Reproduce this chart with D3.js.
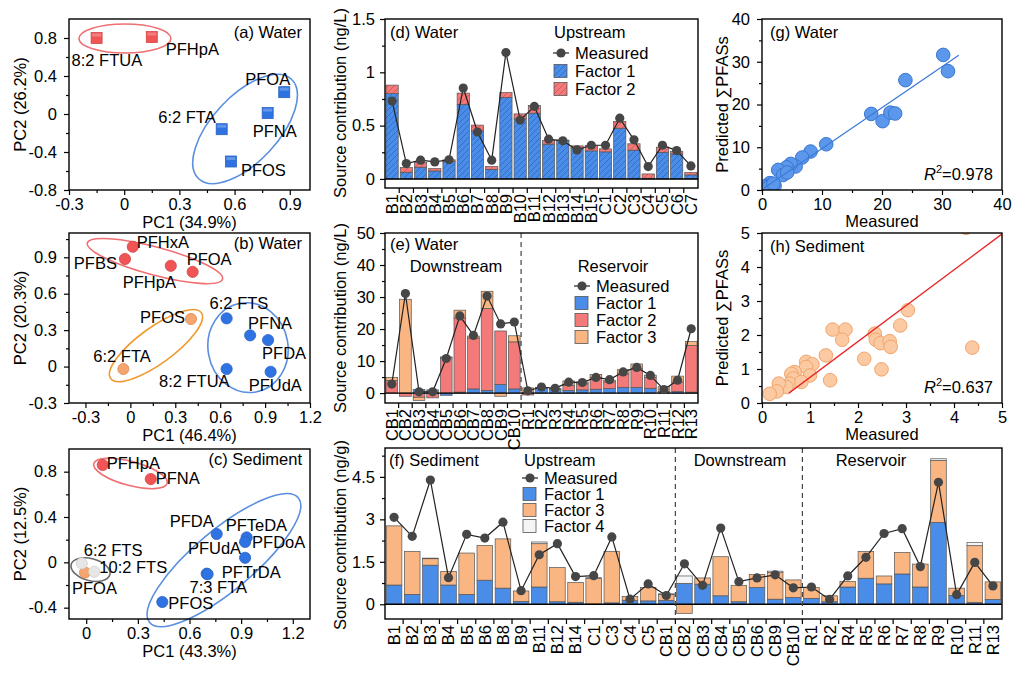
<!DOCTYPE html>
<html><head><meta charset="utf-8">
<script src="https://cdn.jsdelivr.net/npm/d3@7"></script>
<style>
body{margin:0;background:#fff}
svg{display:block}
text{font-family:Arial,"Liberation Sans",sans-serif;fill:#000}
</style>
</head><body>
<svg id="c" width="1024" height="674"></svg>
<script>
// ---------------- DATA ----------------
// (a) PCA water, upstream
const aNames = ["8:2 FTUA","PFHpA","PFOA","PFNA","6:2 FTA","PFOS"];
const aPC1 = [-0.15,0.15,0.87,0.78,0.53,0.58];
const aPC2 = [0.80,0.81,0.23,0.01,-0.16,-0.50];
const aGroup = ["r","r","b","b","b","b"];
// (b) PCA water
const bNames = ["PFHxA","PFBS","PFHpA","PFOA","PFOS","6:2 FTA","6:2 FTS","PFNA","PFDA","8:2 FTUA","PFUdA"];
const bPC1 = [0.016,-0.036,0.27,0.416,0.405,-0.047,0.643,0.80,0.92,0.643,0.937];
const bPC2 = [0.987,0.886,0.83,0.78,0.392,-0.02,0.397,0.257,0.218,-0.02,-0.043];
const bGroup = ["r","r","r","r","o","o","b","b","b","b","b"];
// (c) PCA sediment
const cNames = ["PFOA","6:2 FTS","10:2 FTS","PFHpA","PFNA","PFDA","PFTeDA","PFDoA","PFUdA","PFTrDA","7:3 FTA","PFOS"];
const cPC1 = [-0.007,-0.026,0.047,0.096,0.375,0.758,0.932,0.923,0.923,0.70,0.705,0.442];
const cPC2 = [-0.09,-0.009,-0.083,0.859,0.735,0.25,0.22,0.18,0.04,-0.10,-0.105,-0.35];
const cGroup = ["o","g","g","r","r","b","b","b","b","b","b","b"];

// (d) water upstream source contributions (ng/L)
const dCats = ["B1","B2","B3","B4","B5","B6","B7","B8","B9","B10","B11","B12","B13","B14","B15","C1","C2","C3","C4","C5","C6","C7"];
const dFactor1 = [0.80,0.063,0.11,0.075,0.166,0.70,0.45,0.09,0.765,0.564,0.617,0.326,0.36,0.29,0.263,0.254,0.476,0.27,0.006,0.25,0.235,0.038];
const dFactor2 = [0.08,0.044,0.044,0.022,0.013,0.105,0.055,0.026,0.045,0.046,0.073,0.034,0.004,0.02,0.05,0.028,0.064,0.06,0.041,0.048,0.022,0.022];
const dMeasured = [0.73,0.144,0.176,0.16,0.18,0.853,0.44,0.176,1.185,0.552,0.68,0.373,0.357,0.272,0.316,0.316,0.57,0.367,0.116,0.316,0.266,0.122];

// (e) water downstream + reservoir (ng/L)
const eCats = ["CB1","CB2","CB3","CB4","CB5","CB6","CB7","CB8","CB9","CB10","R1","R2","R3","R4","R5","R6","R7","R8","R9","R10","R11","R12","R13"];
const eFactor1 = [0,0,1.1,1.0,-0.7,0.3,1.3,0.8,2.7,1.3,0.2,1.6,1.1,0.8,1.0,1.2,1.4,1.8,1.8,1.5,0.3,0.5,0.3];
const eFactor2 = [3.9,-1.0,-1.3,-1.5,11.0,23.2,15.9,25.6,16.7,14.7,-0.6,0,0,1.6,1.9,3.6,2.1,4.2,5.8,3.4,0.2,3.0,14.6];
const eFactor3 = [1.0,29.3,-1.0,0,0.3,2.4,0.6,5.4,-1.0,1.9,1.4,0.1,0.4,1.4,0.6,1.0,0.5,1.3,1.5,0.7,1.5,1.8,1.2];
const eMeasured = [2.8,31.1,0.4,0.4,10.8,24.1,18.0,30.3,21.6,22.2,0.7,1.9,1.5,3.4,3.3,4.9,4.2,6.6,8.0,5.5,1.1,4.0,20.1];

// (f) sediment (ng/g)
const fCats = ["B1","B2","B3","B4","B5","B6","B8","B9","B11","B12","B14","C1","C3","C4","C5","CB1","CB2","CB3","CB4","CB5","CB6","CB9","CB10","R1","R2","R4","R5","R6","R7","R8","R9","R10","R11","R13"];
const fFactor1 = [0.68,0.35,1.38,0.68,0.35,0.85,0.57,0.10,0.61,0.09,0.07,0.01,0.05,0.13,0.12,0.14,0.74,0.71,0.30,0.09,0.59,0.18,0.24,0.21,0.09,0.61,0.92,0.72,1.07,0.61,2.89,0.31,0.06,0.17];
const fFactor3 = [2.09,1.52,0.23,0.48,1.46,1.23,1.74,0.37,1.53,1.21,0.70,0.90,1.82,0.15,0.47,0.20,-0.32,0.22,1.38,0.58,0.46,0.94,0.62,0.38,0.21,0.20,0.95,0.28,0.76,0.81,2.19,0.26,2.01,0.62];
const fFactor4 = [0,0,0.02,0,0,0,0,0,0.06,0,0,0.03,0,0,0,0.03,0.26,0,0,0,0,0.05,0,0,0,0,0,0,0,0,0.06,0,0.11,0];
const fMeasured = [3.07,2.40,4.39,0.94,2.47,2.34,2.90,0.48,1.75,2.14,0.98,1.01,2.38,0.18,0.72,0.31,1.43,0.67,2.69,0.80,0.93,1.04,0.58,0.61,0.17,1.0,1.66,2.50,2.67,1.33,4.31,0.34,1.48,0.65];
const fGroupNames = ["Upstream","Downstream","Reservoir"];
const fGroupCounts = [16,7,11];

// (g) predicted vs measured, water
const gMeasured  = [30.2,31.0,23.9,18.2,20.1,21.4,22.2,10.7,8.1,6.7,5.6,4.8,4.1,2.7,3.5,4.2,2.1,1.3,0.7,0.4,1.6,1.0,1.9];
const gPredicted = [31.6,27.8,25.7,17.8,16.1,18.1,17.9,10.7,9.0,7.6,5.5,6.1,5.3,4.7,3.5,4.1,1.0,1.6,0.8,0.8,1.2,0.5,1.5];
const gFitX = [0.3,32.8], gFitY = [0.4,31.5];
const gR2 = "0.978";
// (h) predicted vs measured, sediment
const hMeasured  = [4.25,3.04,2.88,2.35,2.37,2.47,2.66,2.68,4.38,1.47,1.74,1.67,2.13,2.49,1.33,1.42,0.92,1.05,0.92,1.0,0.68,0.61,0.65,0.58,0.82,0.51,0.35,0.31,0.16];
const hPredicted = [5.15,2.73,2.28,2.04,1.86,1.76,1.82,1.65,1.63,2.16,2.16,1.86,1.30,0.99,1.40,0.67,1.21,1.14,1.06,0.81,0.91,0.86,0.72,0.57,0.62,0.47,0.57,0.34,0.27];
const hFitX = [0.56,4.99], hFitY = [0.29,4.96];
const hR2 = "0.637";

// ---------------- LAYOUT (label offsets, ellipses) ----------------
const aLab = [[-25,28,"start"],[14,18,"start"],[-39,-7,"start"],[-15,24,"start"],[-6,-6,"end"],[10,14,"start"]];
const bLab = [[4,1,"start"],[-8,10,"end"],[-48,22,"start"],[-6,-7,"start"],[-6,4,"end"],[-30,-7,"start"],[-17,-9,"start"],[-2,-6,"start"],[-6,19,"start"],[3,18,"end"],[-22,19,"start"]];
const cLab = [[-13,21,"start"],[2,-7,"start"],[5,1,"start"],[4,4,"start"],[5,5,"start"],[-3,-7,"end"],[-21,-6,"start"],[7,6,"start"],[-4,-4,"end"],[15,4,"start"],[-18,19,"start"],[6,7,"start"]];
// ellipses: [cx(data), cy(data), rx(px), ry(px), angle(deg), colour]
const aEll = [[0.004,0.795,46,14.5,0,"#ef6f72"],[0.657,-0.158,68,33,-47,"#5b8fde"]];
const bEll = [[0.164,0.869,70,14,15,"#ef6f72"],[0.171,0.173,56,18,-36,"#f09a30"],[0.786,0.156,40,45,-10,"#5b8fde"]];
const cEll = [[0.257,0.784,38,12,15,"#ef6f72"],[0.80,0.02,97,30,-40,"#5b8fde"],[0.025,-0.064,20,11,15,"#6d6d6d"]];

// ---------------- STYLE ----------------
const FS = 16.5;
const COL = {r:"#f05454", b:"#2f72e2", o:"#f7a56e", g:"#e6e6e6"};
const F1C = "#4a8de8", F2C = "#f47a7a", F3C = "#f9b582", F4C = "#f5f5f5";
const svg = d3.select("#c");
const defs = svg.append("defs");

function hatch(id, base, line){
  const p = defs.append("pattern").attr("id",id).attr("patternUnits","userSpaceOnUse").attr("width",6).attr("height",6);
  p.append("rect").attr("width",6).attr("height",6).attr("fill",base);
  p.append("path").attr("d","M-1,1 L1,-1 M0,6 L6,0 M5,7 L7,5").attr("stroke",line).attr("stroke-width",0.7);
}
hatch("h1", F1C, "#2a62b8");
hatch("h2", F2C, "#c95050");

function txt(g,x,y,s,anchor="start",size=FS){
  return g.append("text").attr("x",x).attr("y",y).attr("text-anchor",anchor).attr("font-size",size).text(s);
}
function vtxt(g,x,y,s,size=FS){
  return g.append("text").attr("transform",`translate(${x},${y}) rotate(-90)`).attr("text-anchor","middle").attr("dy","0.35em").attr("font-size",size).text(s);
}
function fmt(d){ return String(d); }

function linAxes(g,x,y,xt,yt,xm,ym){
  const [x0,x1]=x.range(), [y0,y1]=y.range();
  const bx = g.append("g").attr("transform",`translate(0,${y0})`).call(d3.axisBottom(x).tickValues(xt).tickSize(5).tickPadding(3).tickFormat(fmt));
  g.append("g").attr("transform",`translate(0,${y0})`).call(d3.axisBottom(x).tickValues(xm).tickSize(3).tickFormat(""));
  const by = g.append("g").attr("transform",`translate(${x0},0)`).call(d3.axisLeft(y).tickValues(yt).tickSize(5).tickPadding(7).tickFormat(fmt));
  g.append("g").attr("transform",`translate(${x0},0)`).call(d3.axisLeft(y).tickValues(ym).tickSize(3).tickFormat(""));
  g.selectAll(".domain").remove();
  g.selectAll(".tick line").attr("stroke","#000").attr("stroke-width",1.2);
  g.selectAll(".tick text").attr("font-size",FS).attr("font-family",'Arial,"Liberation Sans",sans-serif').attr("fill","#000");
}
function frame(g,x0,y0,x1,y1){
  g.append("rect").attr("x",x0).attr("y",y0).attr("width",x1-x0).attr("height",y1-y0)
   .attr("fill","none").attr("stroke","#000").attr("stroke-width",1.4);
}

// ---------------- PCA PANELS ----------------
function pca(opts){
  const g = svg.append("g");
  const x = d3.scaleLinear().domain(opts.xd).range([69,310]);
  const y = d3.scaleLinear().domain(opts.yd).range([opts.yb,opts.yt]);
  linAxes(g,x,y,opts.xt,opts.yt_,opts.xm,opts.ym);
  // ellipses
  opts.ell.forEach(e=>{
    g.append("ellipse").attr("cx",0).attr("cy",0).attr("rx",e[2]).attr("ry",e[3])
     .attr("transform",`translate(${x(e[0])},${y(e[1])}) rotate(${e[4]})`)
     .attr("fill","none").attr("stroke",e[5]).attr("stroke-width",1.6);
  });
  // points
  opts.names.forEach((n,i)=>{
    const px=x(opts.pc1[i]), py=y(opts.pc2[i]), c=COL[opts.grp[i]];
    const st = d3.color(c).darker(0.4);
    if(opts.shape==="square"){
      g.append("rect").attr("x",px-5.5).attr("y",py-5.5).attr("width",11).attr("height",11).attr("fill",c).attr("stroke",st).attr("stroke-width",0.8);
      g.append("rect").attr("x",px-4.5).attr("y",py-4.5).attr("width",9).attr("height",3).attr("fill","#fff").attr("opacity",0.25);
    } else {
      g.append("circle").attr("cx",px).attr("cy",py).attr("r",5.6).attr("fill",c).attr("stroke",opts.grp[i]==="g"?"#d0d0d0":st).attr("stroke-width",0.8);
    }
  });
  opts.names.forEach((n,i)=>{
    const l=opts.lab[i];
    txt(g,x(opts.pc1[i])+l[0],y(opts.pc2[i])+l[1],n,l[2]);
  });
  frame(g,69,opts.yt,310,opts.yb);
  txt(g,302,opts.titleY,opts.title,"end");
  txt(g,189.5,opts.yb+38,opts.xlabel,"middle");
  vtxt(g,20,(opts.yt+opts.yb)/2,opts.ylabel);
}
pca({xd:[-0.3,1.01],yd:[-0.8,1.0],yt:19,yb:190,xt:[-0.3,0,0.3,0.6,0.9],yt_:[-0.8,-0.4,0,0.4,0.8],
  xm:[-0.15,0.15,0.45,0.75],ym:[-0.6,-0.2,0.2,0.6],ell:aEll,names:aNames,pc1:aPC1,pc2:aPC2,grp:aGroup,lab:aLab,
  shape:"square",title:"(a) Water",titleY:38,xlabel:"PC1 (34.9%)",ylabel:"PC2 (26.2%)"});
pca({xd:[-0.41,1.2],yd:[-0.3,1.1],yt:233,yb:403,xt:[-0.3,0,0.3,0.6,0.9,1.2],yt_:[-0.3,0,0.3,0.6,0.9],
  xm:[-0.15,0.15,0.45,0.75,1.05],ym:[-0.15,0.15,0.45,0.75,1.05],ell:bEll,names:bNames,pc1:bPC1,pc2:bPC2,grp:bGroup,lab:bLab,
  shape:"circle",title:"(b) Water",titleY:249,xlabel:"PC1 (46.4%)",ylabel:"PC2 (20.3%)"});
pca({xd:[-0.1,1.3],yd:[-0.5,1.0],yt:449,yb:619,xt:[0,0.3,0.6,0.9,1.2],yt_:[-0.4,0,0.4,0.8],
  xm:[0.15,0.45,0.75,1.05],ym:[-0.2,0.2,0.6],ell:cEll,names:cNames,pc1:cPC1,pc2:cPC2,grp:cGroup,lab:cLab,
  shape:"circle",title:"(c) Sediment",titleY:465,xlabel:"PC1 (43.3%)",ylabel:"PC2 (12.5%)"});

// ---------------- BAR PANELS ----------------
function barPanel(o){
  const g = svg.append("g");
  const x = d3.scaleBand().domain(o.cats).range([o.x0,o.x1]).paddingInner(0.14).paddingOuter(0.07);
  const y = d3.scaleLinear().domain(o.yd).range([o.yb,o.yt]);
  const rows = o.cats.map((c,i)=>{ const r={cat:c}; o.keys.forEach((k,j)=>r[k]=o.series[j][i]); return r; });
  const stack = d3.stack().keys(o.keys).offset(d3.stackOffsetDiverging)(rows);
  stack.forEach((s,j)=>{
    g.append("g").selectAll("rect").data(s).join("rect")
      .attr("x",d=>x(d.data.cat)).attr("width",x.bandwidth())
      .attr("y",d=>y(Math.max(d[0],d[1]))).attr("height",d=>Math.abs(y(d[0])-y(d[1])))
      .attr("fill",o.fills[j]).attr("stroke","#555").attr("stroke-width",0.7);
  });
  // zero line
  g.append("line").attr("x1",o.x0).attr("x2",o.x1).attr("y1",y(0)).attr("y2",y(0)).attr("stroke","#000").attr("stroke-width",1.4);
  // dividers
  (o.dividers||[]).forEach(k=>{
    const xx = o.x0 + x.step()*k;
    g.append("line").attr("x1",xx).attr("x2",xx).attr("y1",o.yt).attr("y2",o.yb).attr("stroke","#444").attr("stroke-width",1.2).attr("stroke-dasharray","5,4");
  });
  // measured
  const cx = c=>x(c)+x.bandwidth()/2;
  g.append("path").datum(o.meas).attr("d",d3.line().x((d,i)=>cx(o.cats[i])).y(d=>y(d)))
    .attr("fill","none").attr("stroke","#222").attr("stroke-width",1.2);
  g.selectAll("circle.m").data(o.meas).join("circle").attr("class","m")
    .attr("cx",(d,i)=>cx(o.cats[i])).attr("cy",d=>y(d)).attr("r",4.6).attr("fill","#464646");
  // y axis
  const ay = g.append("g").attr("transform",`translate(${o.x0},0)`).call(d3.axisLeft(y).tickValues(o.yticks).tickSize(5).tickPadding(5).tickFormat(fmt));
  g.append("g").attr("transform",`translate(${o.x0},0)`).call(d3.axisLeft(y).tickValues(o.ym).tickSize(3).tickFormat(""));
  g.selectAll(".domain").remove();
  g.selectAll(".tick line").attr("stroke","#000").attr("stroke-width",1.2);
  g.selectAll(".tick text").attr("font-size",FS).attr("font-family",'Arial,"Liberation Sans",sans-serif').attr("fill","#000");
  // category ticks and labels
  g.selectAll("line.ct").data(d3.range(1,o.cats.length)).join("line").attr("class","ct")
    .attr("x1",k=>o.x0+x.step()*k).attr("x2",k=>o.x0+x.step()*k).attr("y1",o.yb).attr("y2",o.yb+5)
    .attr("stroke","#000").attr("stroke-width",1.2);
  g.selectAll("text.cl").data(o.cats).join("text").attr("class","cl")
    .attr("transform",c=>`translate(${cx(c)},${o.yb+6}) rotate(-90)`)
    .attr("text-anchor","end").attr("dy","0.36em").attr("font-size",FS).text(c=>c);
  frame(g,o.x0,o.yt,o.x1,o.yb);
  vtxt(g,340,o.ylabY,o.ylabel);
  return g;
}
function legend(g,x,y0,dy,items){
  items.forEach((it,i)=>{
    const yy=y0+i*dy;
    if(it.type==="line"){
      g.append("line").attr("x1",x-1).attr("x2",x+15).attr("y1",yy).attr("y2",yy).attr("stroke","#222").attr("stroke-width",1.2);
      g.append("circle").attr("cx",x+7).attr("cy",yy).attr("r",4.6).attr("fill","#464646");
    } else {
      g.append("rect").attr("x",x).attr("y",yy-6.5).attr("width",13).attr("height",13).attr("fill",it.fill).attr("stroke","#555").attr("stroke-width",0.8);
    }
    txt(g,x+21,yy+6,it.label);
  });
}

const gd = barPanel({cats:dCats,keys:["F1","F2"],series:[dFactor1,dFactor2],fills:["url(#h1)","url(#h2)"],meas:dMeasured,
  x0:385,x1:698,yt:19,yb:188,yd:[-0.085,1.5],yticks:[0,0.5,1,1.5],ym:[0.25,0.75,1.25],ylabel:"Source contribution (ng/L)",ylabY:103});
txt(gd,390,38,"(d) Water");
txt(gd,554,38,"Upstream");
legend(gd,554,53,18,[{type:"line",label:"Measured"},{fill:"url(#h1)",label:"Factor 1"},{fill:"url(#h2)",label:"Factor 2"}]);

const ge = barPanel({cats:eCats,keys:["F1","F2","F3"],series:[eFactor1,eFactor2,eFactor3],fills:[F1C,F2C,F3C],meas:eMeasured,
  x0:385,x1:698,yt:233,yb:403,yd:[-3.1,50],yticks:[0,10,20,30,40,50],ym:[5,15,25,35,45],dividers:[10],ylabel:"Source contribution (ng/L)",ylabY:318});
txt(ge,390,250,"(e) Water");
txt(ge,456,272,"Downstream","middle");
txt(ge,613,272,"Reservoir","middle");
legend(ge,575,286,17,[{type:"line",label:"Measured"},{fill:F1C,label:"Factor 1"},{fill:F2C,label:"Factor 2"},{fill:F3C,label:"Factor 3"}]);

const div1 = fGroupCounts[0], div2 = fGroupCounts[0]+fGroupCounts[1];
const gf = barPanel({cats:fCats,keys:["F1","F3","F4"],series:[fFactor1,fFactor3,fFactor4],fills:[F1C,F3C,F4C],meas:fMeasured,
  x0:385,x1:1002,yt:448,yb:619,yd:[-0.52,5.52],yticks:[0,1.5,3,4.5],ym:[0.75,2.25,3.75,5.25],dividers:[div1,div2],ylabel:"Source contribution (ng/g)",ylabY:535});
txt(gf,389,466,"(f) Sediment");
txt(gf,524,466,fGroupNames[0]);
txt(gf,740,466,fGroupNames[1],"middle");
txt(gf,871,466,fGroupNames[2],"middle");
legend(gf,523,478,16,[{type:"line",label:"Measured"},{fill:F1C,label:"Factor 1"},{fill:F3C,label:"Factor 3"},{fill:F4C,label:"Factor 4"}]);

// ---------------- SCATTER PANELS ----------------
function scatter(o){
  const g = svg.append("g");
  const x = d3.scaleLinear().domain(o.d).range([762,1002]);
  const y = d3.scaleLinear().domain(o.d).range([o.yb,o.yt]);
  linAxes(g,x,y,o.ticks,o.ticks,o.minor,o.minor);
  const cid = "clip"+o.id;
  defs.append("clipPath").attr("id",cid).append("rect").attr("x",762).attr("y",o.yt).attr("width",240).attr("height",o.yb-o.yt);
  const pg = g.append("g").attr("clip-path",`url(#${cid})`);
  pg.selectAll("circle").data(o.mx).join("circle").attr("cx",d=>x(d)).attr("cy",(d,i)=>y(o.py[i])).attr("r",6.8)
    .attr("fill",o.fill).attr("stroke",o.stroke).attr("stroke-width",1);
  pg.append("line").attr("x1",x(o.fx[0])).attr("y1",y(o.fy[0])).attr("x2",x(o.fx[1])).attr("y2",y(o.fy[1]))
    .attr("stroke",o.line).attr("stroke-width",1.3);
  frame(g,762,o.yt,1002,o.yb);
  txt(g,770,o.yt+19,o.title);
  const t = g.append("text").attr("x",993).attr("y",o.yb-10).attr("text-anchor","end").attr("font-size",FS);
  t.append("tspan").attr("font-style","italic").text("R");
  t.append("tspan").attr("dy",-7).attr("font-size",11).text("2");
  t.append("tspan").attr("dy",7).text("="+o.r2);
  txt(g,882,o.yb+37,"Measured","middle");
  vtxt(g,722,(o.yt+o.yb)/2,"Predicted \u2211PFASs");
}
scatter({id:"g",d:[0,40],yt:19,yb:190,ticks:[0,10,20,30,40],minor:[5,15,25,35],mx:gMeasured,py:gPredicted,fx:gFitX,fy:gFitY,
  fill:"#5b97ea",stroke:"#3a76d2",line:"#3d7ad8",title:"(g) Water",r2:gR2});
scatter({id:"h",d:[0,5],yt:233,yb:403,ticks:[0,1,2,3,4,5],minor:[0.5,1.5,2.5,3.5,4.5],mx:hMeasured,py:hPredicted,fx:hFitX,fy:hFitY,
  fill:"#fbcaa2",stroke:"#f2a46c",line:"#e8262a",title:"(h) Sediment",r2:hR2});
</script>
</body></html>
